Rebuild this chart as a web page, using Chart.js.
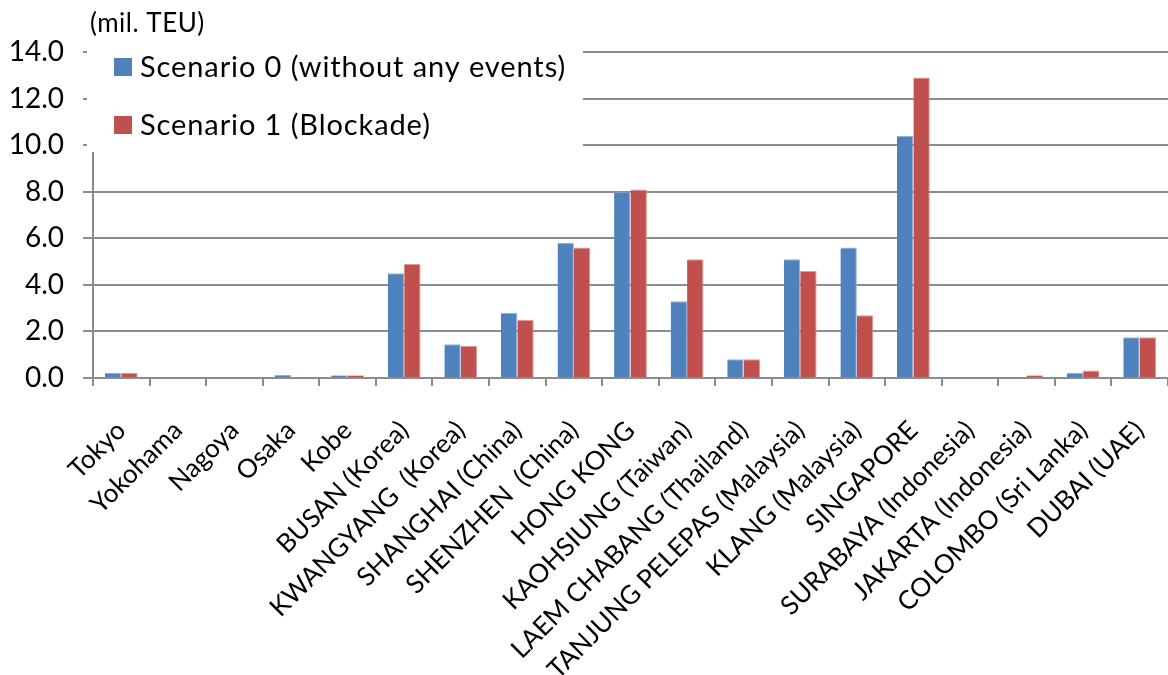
<!DOCTYPE html>
<html>
<head>
<meta charset="utf-8">
<title>Port throughput by scenario</title>
<script src="https://cdn.jsdelivr.net/npm/chart.js@4.4.1/dist/chart.umd.min.js"></script>
<style>
  html, body { margin: 0; padding: 0; background: #fff; }
</style>
</head>
<body>
<canvas id="chart" width="1168" height="675"></canvas>
<script>
// ports on the x axis
const ports = [
  'Tokyo', 'Yokohama', 'Nagoya', 'Osaka', 'Kobe',
  'BUSAN (Korea)', 'KWANGYANG  (Korea)', 'SHANGHAI (China)', 'SHENZHEN  (China)', 'HONG KONG',
  'KAOHSIUNG (Taiwan)', 'LAEM CHABANG (Thailand)', 'TANJUNG PELEPAS (Malaysia)', 'KLANG (Malaysia)', 'SINGAPORE',
  'SURABAYA (Indonesia)', 'JAKARTA (Indonesia)', 'COLOMBO (Sri Lanka)', 'DUBAI (UAE)'
]

// throughput, mil. TEU
const scenario0 = [0.23, 0.03, 0.03, 0.13, 0.12, 4.5, 1.45, 2.8, 5.8, 8.0, 3.3, 0.8, 5.1, 5.6, 10.4, 0.03, 0.03, 0.23, 1.75]
const scenario1 = [0.23, 0.03, 0.03, 0.03, 0.12, 4.9, 1.37, 2.5, 5.6, 8.1, 5.1, 0.8, 4.6, 2.7, 12.9, 0.03, 0.12, 0.32, 1.75]

const yTicks = [0, 2, 4, 6, 8, 10, 12, 14]
const unitLabel = '(mil. TEU)'

const FONT = 'Lato, "Open Sans", sans-serif'
const GRID = '#8c8c8c'

// legend box sitting over the top-left of the plot, plus the unit caption
const boxLegend = {
  id: 'boxLegend',
  beforeDatasetsDraw(chart) {
    const ctx = chart.ctx
    ctx.save()
    ctx.fillStyle = '#fff'
    ctx.fillRect(87, 38, 496, 114)

    ctx.textBaseline = 'middle'
    ctx.textAlign = 'left'
    ctx.font = '29px ' + FONT
    ctx.letterSpacing = '0.9px'
    chart.data.datasets.forEach((ds, i) => {
      const y = 67 + i * 58
      ctx.fillStyle = ds.backgroundColor
      ctx.fillRect(114, y - 9, 18, 18)
      ctx.fillStyle = '#000'
      ctx.fillText(ds.label, 140, y + 1)
    })
    ctx.restore()
  },
  afterDraw(chart) {
    const ctx = chart.ctx
    ctx.save()
    ctx.font = '26px ' + FONT
    ctx.letterSpacing = '0.5px'
    ctx.fillStyle = '#000'
    ctx.textBaseline = 'middle'
    ctx.fillText(unitLabel, 90, 24)
    ctx.restore()
  }
}

new Chart(document.getElementById('chart'), {
  type: 'bar',
  data: {
    labels: ports,
    datasets: [{
      label: 'Scenario 0 (without any events)',
      data: scenario0,
      backgroundColor: '#4f81bd',
      borderColor: '#8fb0dc',
      borderWidth: { top: 1, right: 1, left: 0, bottom: 0 }
    }, {
      label: 'Scenario 1 (Blockade)',
      data: scenario1,
      backgroundColor: '#c0504d',
      borderColor: '#e09896',
      borderWidth: { top: 1, right: 1, left: 0, bottom: 0 }
    }]
  },
  options: {
    responsive: false,
    animation: false,
    devicePixelRatio: 1,
    layout: { padding: { top: 52, right: 0, left: 0, bottom: 0 } },
    categoryPercentage: 0.58,
    barPercentage: 1,
    plugins: {
      legend: { display: false },
      tooltip: { enabled: false }
    },
    scales: {
      x: {
        grid: {
          offset: true,
          drawOnChartArea: false,
          drawTicks: true,
          tickLength: 8,
          color: GRID,
          lineWidth: 2
        },
        border: { color: GRID, width: 2 },
        ticks: {
          autoSkip: false,
          maxRotation: 45,
          minRotation: 45,
          padding: 29,
          color: '#000',
          font: { family: FONT, size: 26 }
        },
        // plot runs to the right edge of the canvas
        afterFit: s => {
          s.height = 297
          s.paddingLeft = 0
          s.paddingRight = 0
        }
      },
      y: {
        min: 0,
        max: 14,
        afterBuildTicks: s => { s.ticks = yTicks.map(v => ({ value: v })) },
        grid: {
          color: GRID,
          lineWidth: 2,
          tickLength: 10
        },
        border: { color: GRID, width: 2 },
        ticks: {
          padding: 19,
          color: '#000',
          font: { family: FONT, size: 28 },
          callback: v => v.toFixed(1)
        },
        afterFit: s => { s.width = 93 }
      }
    }
  },
  plugins: [boxLegend]
})
</script>
</body>
</html>
